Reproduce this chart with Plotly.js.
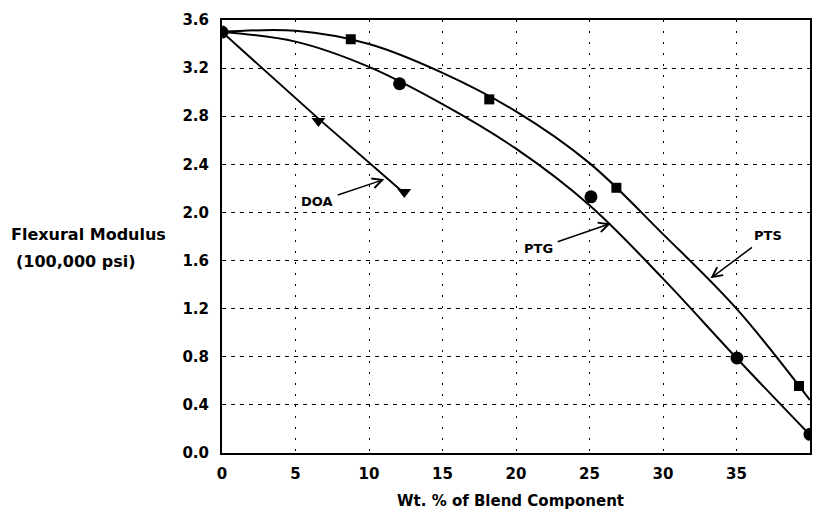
<!DOCTYPE html>
<html>
<head>
<meta charset="utf-8">
<script src="https://cdn.plot.ly/plotly-3.0.1.min.js"></script>
<style>html,body{margin:0;padding:0;background:#fff}#chart{width:820px;height:513px}</style>
</head>
<body>
<div id="chart"></div>
<script>
// Fitted curves
var curveX = [0, 5, 10, 15, 20, 25, 30, 35, 40];
var ptsCurveY = [3.50, 3.51, 3.40, 3.16, 2.84, 2.41, 1.82, 1.20, 0.44];
var ptgCurveY = [3.50, 3.42, 3.21, 2.90, 2.53, 2.06, 1.45, 0.79, 0.15];
// Measured points
var ptsX = [8.76, 18.18, 26.83, 39.25];
var ptsY = [3.44, 2.94, 2.205, 0.557];
var ptgX = [0, 12.08, 25.1, 35.03, 40];
var ptgY = [3.50, 3.07, 2.13, 0.79, 0.155];
var doaLineX = [0, 6.56, 12.4];
var doaLineY = [3.50, 2.78, 2.16];
var doaX = [6.56, 12.4];
var doaY = [2.76, 2.17];
// Axis ticks
var xTicks = [0, 5, 10, 15, 20, 25, 30, 35, 40];
var yTicks = [0.0, 0.4, 0.8, 1.2, 1.6, 2.0, 2.4, 2.8, 3.2, 3.6];

var FONT = 'DejaVu Sans';

var traces = [
  {x: curveX, y: ptsCurveY, mode: 'lines', line: {color: '#000', width: 2, shape: 'spline', smoothing: 1}, hoverinfo: 'skip'},
  {x: curveX, y: ptgCurveY, mode: 'lines', line: {color: '#000', width: 2, shape: 'spline', smoothing: 1}, hoverinfo: 'skip'},
  {x: doaLineX, y: doaLineY, mode: 'lines', line: {color: '#000', width: 2}, hoverinfo: 'skip'},
  {x: ptsX, y: ptsY, mode: 'markers', marker: {symbol: 'square', size: 10, color: '#000'}},
  {x: ptgX, y: ptgY, mode: 'markers', marker: {symbol: 'circle', size: 13, color: '#000'}},
  {x: doaX, y: doaY, mode: 'markers', marker: {symbol: 'triangle-down', size: 12, color: '#000'}}
];

var labelFont = {family: FONT, size: 13, color: '#000', weight: 'bold'};
var annFont = {family: FONT, size: 16, color: '#000', weight: 'bold'};
var xTitleFont = {family: FONT, size: 15, color: '#000', weight: 'bold'};

var layout = {
  width: 820, height: 513,
  margin: {l: 221.5, r: 9.5, t: 20, b: 60},
  paper_bgcolor: '#fff', plot_bgcolor: '#fff',
  showlegend: false,
  xaxis: {
    range: [0, 40], tickvals: xTicks, ticktext: xTicks.map(String),
    showgrid: true, gridcolor: '#000', gridwidth: 1, griddash: '2px,9px',
    showline: true, linecolor: '#000', linewidth: 2, mirror: true,
    zeroline: false, ticks: '', ticklabelstandoff: 6,
    tickfont: {family: FONT, size: 15, color: '#000', weight: 'bold'}
  },
  yaxis: {
    range: [0, 3.6], tickvals: yTicks, ticktext: yTicks.map(function(v){return v.toFixed(1);}),
    showgrid: true, gridcolor: '#000', gridwidth: 1, griddash: '4px,5px',
    showline: true, linecolor: '#000', linewidth: 2, mirror: true,
    zeroline: false, ticks: '', ticklabelstandoff: 8,
    tickfont: {family: FONT, size: 15, color: '#000', weight: 'bold'}
  },
  annotations: [
    {xref: 'paper', yref: 'paper', x: -0.3625, y: 0.5035, xanchor: 'left', yanchor: 'middle', text: 'Flexural Modulus', showarrow: false, font: annFont},
    {xref: 'paper', yref: 'paper', x: -0.354, y: 0.4418, xanchor: 'left', yanchor: 'middle', text: '(100,000 psi)', showarrow: false, font: annFont},
    {xref: 'paper', yref: 'paper', x: 0.49, y: -0.11, xanchor: 'center', yanchor: 'middle', text: 'Wt. % of Blend Component', showarrow: false, font: xTitleFont},
    {xref: 'x', yref: 'y', x: 11.04, y: 2.275, ax: -67, ay: 22.5, text: 'DOA', font: labelFont, showarrow: true, arrowhead: 5, arrowsize: 1.3, arrowwidth: 1.5, arrowcolor: '#000', borderpad: 4},
    {xref: 'x', yref: 'y', x: 26.44, y: 1.909, ax: -72, ay: 25, text: 'PTG', font: labelFont, showarrow: true, arrowhead: 5, arrowsize: 1.3, arrowwidth: 1.5, arrowcolor: '#000', borderpad: 4},
    {xref: 'x', yref: 'y', x: 33.23, y: 1.452, ax: 57.6, ay: -43, text: 'PTS', font: labelFont, showarrow: true, arrowhead: 5, arrowsize: 1.3, arrowwidth: 1.5, arrowcolor: '#000', borderpad: 4}
  ]
};

Plotly.newPlot('chart', traces, layout, {staticPlot: true, displayModeBar: false});
</script>
</body>
</html>
